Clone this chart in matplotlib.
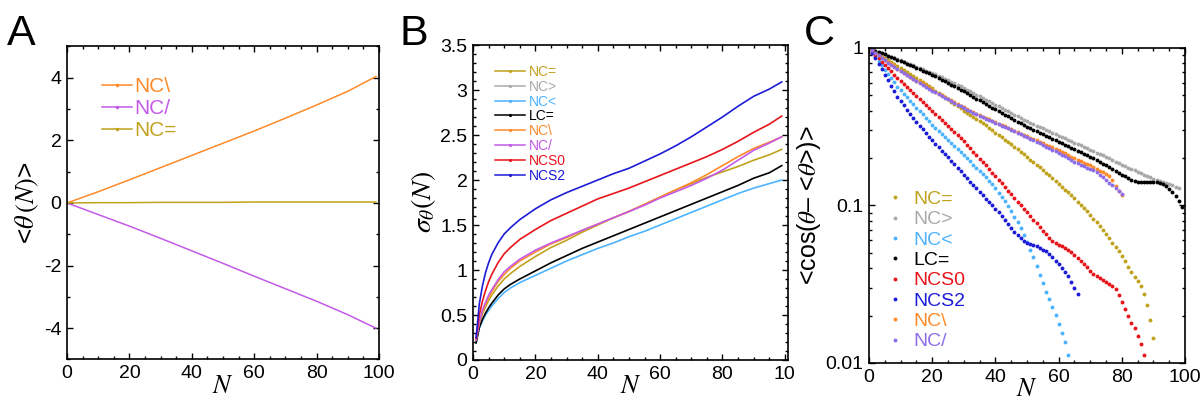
import numpy as np
import matplotlib.pyplot as plt
from matplotlib.lines import Line2D
from matplotlib.ticker import MultipleLocator, LogLocator, NullFormatter

plt.rcParams.update({'font.family': ['Liberation Sans', 'DejaVu Sans'],
                     'mathtext.fontset': 'stix',
                     'axes.unicode_minus': False,
                     'font.size': 14})

# colours
GOLD = '#C0A21C'
GREY = '#A9A9A9'
LBLUE = '#4DB3FF'
BLACK = '#000000'
RED = '#E8141B'
BLUE = '#1C1CD6'
ORANGE = '#FF8A2A'
PURPLE_AB = '#C35BE8'
PURPLE_C = '#8E6EE8'

# ---------------- panel A : <theta(N)>
N_a = [0, 10, 20, 30, 40, 50, 60, 70, 80, 90, 99]
theta_nc_back = [0, 0.36, 0.74, 1.13, 1.52, 1.91, 2.30, 2.71, 3.13, 3.57, 4.04]
theta_nc_fwd = [0, -0.37, -0.74, -1.13, -1.53, -1.93, -2.34, -2.74, -3.14, -3.57, -4.00]
theta_nc_eq = [0, 0.01, 0.01, 0.02, 0.02, 0.02, 0.03, 0.03, 0.03, 0.03, 0.03]

# ---------------- panel B : sigma_theta(N)
N_b = [1, 2, 3, 4, 5, 6, 8, 10, 12, 15, 20, 25, 30, 35, 40, 45, 50, 55, 60, 65, 70, 75, 80, 85, 90, 95, 99]
sig_nc_eq = [0.21, 0.40, 0.51, 0.59, 0.66, 0.72, 0.82, 0.90, 0.96, 1.04, 1.15, 1.25, 1.33, 1.42,
             1.50, 1.58, 1.65, 1.73, 1.81, 1.89, 1.96, 2.03, 2.09, 2.15, 2.22, 2.28, 2.34]
sig_nc_lt = [0.19, 0.35, 0.43, 0.50, 0.55, 0.60, 0.68, 0.75, 0.80, 0.86, 0.94, 1.02, 1.10, 1.17,
             1.24, 1.30, 1.37, 1.43, 1.50, 1.57, 1.64, 1.71, 1.78, 1.85, 1.91, 1.96, 2.00]
sig_lc_eq = [0.19, 0.36, 0.45, 0.52, 0.58, 0.63, 0.72, 0.79, 0.84, 0.90, 0.99, 1.08, 1.16, 1.24,
             1.31, 1.38, 1.45, 1.52, 1.59, 1.66, 1.73, 1.80, 1.87, 1.94, 2.02, 2.08, 2.16]
sig_nc_back = [0.22, 0.41, 0.53, 0.62, 0.70, 0.76, 0.87, 0.95, 1.02, 1.10, 1.20, 1.29, 1.36, 1.44,
               1.51, 1.58, 1.65, 1.73, 1.81, 1.89, 1.97, 2.06, 2.16, 2.26, 2.35, 2.42, 2.48]
sig_nc_fwd = [0.22, 0.42, 0.55, 0.64, 0.72, 0.78, 0.89, 0.98, 1.04, 1.12, 1.22, 1.30, 1.37, 1.44,
              1.51, 1.58, 1.65, 1.72, 1.80, 1.87, 1.94, 2.02, 2.11, 2.22, 2.33, 2.41, 2.48]
sig_ncs0 = [0.24, 0.50, 0.65, 0.77, 0.87, 0.95, 1.08, 1.18, 1.25, 1.34, 1.45, 1.55, 1.63, 1.71,
            1.79, 1.85, 1.91, 1.98, 2.05, 2.12, 2.19, 2.26, 2.34, 2.43, 2.53, 2.62, 2.71]
sig_ncs2 = [0.25, 0.62, 0.82, 0.97, 1.08, 1.17, 1.30, 1.40, 1.47, 1.56, 1.68, 1.78, 1.86, 1.93,
            2.00, 2.07, 2.13, 2.21, 2.29, 2.38, 2.48, 2.59, 2.70, 2.82, 2.93, 3.01, 3.09]

# ---------------- panel C : <cos(theta - <theta>)> as log10, N = 1, 2, ...
lc_nc_eq = [-0.012, -0.024, -0.036, -0.049, -0.062, -0.075, -0.088, -0.101, -0.114, -0.127,
            -0.140, -0.153, -0.166, -0.179, -0.192, -0.205, -0.218, -0.231, -0.244, -0.257,
            -0.271, -0.285, -0.299, -0.313, -0.327, -0.341, -0.355, -0.369, -0.383, -0.397,
            -0.410, -0.423, -0.436, -0.449, -0.462, -0.477, -0.492, -0.507, -0.522, -0.537,
            -0.552, -0.567, -0.582, -0.597, -0.612, -0.628, -0.644, -0.660, -0.676, -0.692,
            -0.708, -0.724, -0.741, -0.758, -0.775, -0.792, -0.809, -0.827, -0.845, -0.863,
            -0.881, -0.899, -0.917, -0.936, -0.955, -0.975, -0.996, -1.017, -1.038, -1.060,
            -1.083, -1.106, -1.130, -1.155, -1.180, -1.207, -1.235, -1.263, -1.292, -1.322,
            -1.355, -1.390, -1.425, -1.455, -1.482, -1.510, -1.560, -1.630, -1.730, -1.840]
lc_nc_gt = [-0.008, -0.016, -0.024, -0.032, -0.040, -0.048, -0.056, -0.064, -0.072, -0.079,
            -0.087, -0.095, -0.103, -0.111, -0.119, -0.127, -0.135, -0.143, -0.151, -0.159,
            -0.168, -0.177, -0.186, -0.195, -0.204, -0.214, -0.224, -0.234, -0.244, -0.255,
            -0.265, -0.276, -0.286, -0.297, -0.307, -0.318, -0.328, -0.339, -0.349, -0.360,
            -0.370, -0.381, -0.391, -0.402, -0.412, -0.423, -0.433, -0.444, -0.455, -0.466,
            -0.475, -0.484, -0.493, -0.502, -0.511, -0.520, -0.529, -0.538, -0.547, -0.556,
            -0.565, -0.574, -0.583, -0.592, -0.601, -0.610, -0.619, -0.628, -0.637, -0.646,
            -0.655, -0.664, -0.673, -0.682, -0.691, -0.701, -0.711, -0.721, -0.731, -0.741,
            -0.750, -0.759, -0.768, -0.777, -0.786, -0.795, -0.804, -0.813, -0.821, -0.829,
            -0.836, -0.843, -0.850, -0.857, -0.864, -0.872, -0.880, -0.890]
lc_nc_lt = [-0.025, -0.053, -0.081, -0.109, -0.137, -0.164, -0.191, -0.218, -0.245, -0.268,
            -0.290, -0.312, -0.334, -0.356, -0.378, -0.400, -0.422, -0.444, -0.466, -0.488,
            -0.507, -0.526, -0.545, -0.564, -0.583, -0.602, -0.621, -0.640, -0.660, -0.680,
            -0.700, -0.720, -0.740, -0.760, -0.780, -0.800, -0.821, -0.843, -0.866, -0.892,
            -0.919, -0.946, -0.974, -1.003, -1.035, -1.070, -1.107, -1.146, -1.188, -1.233,
            -1.280, -1.330, -1.385, -1.440, -1.495, -1.550, -1.595, -1.645, -1.695, -1.750,
            -1.807, -1.865, -1.950]
lc_lc_eq = [-0.008, -0.016, -0.024, -0.032, -0.041, -0.049, -0.057, -0.065, -0.074, -0.082,
            -0.091, -0.100, -0.108, -0.117, -0.126, -0.134, -0.143, -0.152, -0.161, -0.170,
            -0.180, -0.191, -0.201, -0.212, -0.222, -0.233, -0.243, -0.254, -0.264, -0.275,
            -0.286, -0.298, -0.309, -0.321, -0.332, -0.344, -0.355, -0.367, -0.378, -0.390,
            -0.401, -0.412, -0.423, -0.434, -0.445, -0.456, -0.467, -0.478, -0.489, -0.500,
            -0.510, -0.519, -0.529, -0.539, -0.548, -0.558, -0.568, -0.578, -0.587, -0.597,
            -0.606, -0.615, -0.625, -0.634, -0.643, -0.653, -0.662, -0.671, -0.681, -0.690,
            -0.701, -0.712, -0.723, -0.734, -0.745, -0.757, -0.769, -0.781, -0.793, -0.805,
            -0.815, -0.825, -0.835, -0.843, -0.848, -0.850, -0.850, -0.849, -0.848, -0.849,
            -0.851, -0.856, -0.864, -0.876, -0.893, -0.915, -0.940, -0.970, -1.010]
lc_ncs0 = [-0.020, -0.042, -0.064, -0.086, -0.107, -0.128, -0.149, -0.170, -0.190, -0.209,
           -0.228, -0.247, -0.266, -0.285, -0.304, -0.323, -0.342, -0.361, -0.380, -0.398,
           -0.417, -0.436, -0.455, -0.474, -0.493, -0.512, -0.531, -0.550, -0.570, -0.592,
           -0.614, -0.636, -0.658, -0.680, -0.702, -0.724, -0.746, -0.768, -0.791, -0.814,
           -0.837, -0.860, -0.883, -0.906, -0.929, -0.952, -0.975, -0.998, -1.021, -1.044,
           -1.067, -1.090, -1.113, -1.136, -1.159, -1.182, -1.205, -1.225, -1.237, -1.248,
           -1.258, -1.268, -1.282, -1.297, -1.313, -1.333, -1.353, -1.373, -1.393, -1.413,
           -1.432, -1.447, -1.461, -1.475, -1.487, -1.498, -1.510, -1.530, -1.570, -1.615,
           -1.660, -1.703, -1.743, -1.780, -1.830, -1.880, -1.950]
lc_ncs2 = [-0.030, -0.065, -0.100, -0.135, -0.170, -0.205, -0.240, -0.275, -0.310, -0.337,
           -0.364, -0.391, -0.418, -0.445, -0.470, -0.494, -0.517, -0.540, -0.563, -0.585,
           -0.607, -0.629, -0.651, -0.673, -0.695, -0.717, -0.738, -0.760, -0.782, -0.805,
           -0.827, -0.850, -0.871, -0.892, -0.913, -0.935, -0.956, -0.977, -0.998, -1.020,
           -1.044, -1.068, -1.092, -1.117, -1.142, -1.166, -1.190, -1.207, -1.224, -1.240,
           -1.247, -1.254, -1.260, -1.270, -1.280, -1.290, -1.310, -1.330, -1.350, -1.370,
           -1.397, -1.423, -1.450, -1.487, -1.523, -1.560]
lc_nc_back = [-0.014, -0.029, -0.044, -0.059, -0.074, -0.089, -0.103, -0.117, -0.131, -0.144,
              -0.157, -0.170, -0.183, -0.195, -0.207, -0.219, -0.231, -0.243, -0.255, -0.267,
              -0.278, -0.289, -0.300, -0.311, -0.322, -0.333, -0.344, -0.355, -0.366, -0.377,
              -0.387, -0.397, -0.407, -0.417, -0.426, -0.435, -0.444, -0.453, -0.462, -0.471,
              -0.480, -0.489, -0.498, -0.507, -0.516, -0.525, -0.534, -0.543, -0.551, -0.560,
              -0.569, -0.578, -0.587, -0.596, -0.605, -0.613, -0.622, -0.631, -0.639, -0.648,
              -0.658, -0.669, -0.679, -0.690, -0.700, -0.711, -0.720, -0.728, -0.737, -0.745,
              -0.754, -0.766, -0.778, -0.790, -0.802, -0.815, -0.838, -0.875, -0.905, -0.933]
lc_nc_fwd = [-0.015, -0.031, -0.047, -0.063, -0.078, -0.093, -0.107, -0.121, -0.135, -0.148,
             -0.161, -0.174, -0.187, -0.199, -0.211, -0.223, -0.235, -0.247, -0.259, -0.271,
             -0.282, -0.293, -0.304, -0.315, -0.326, -0.337, -0.348, -0.359, -0.370, -0.381,
             -0.391, -0.401, -0.411, -0.421, -0.430, -0.439, -0.448, -0.457, -0.466, -0.475,
             -0.484, -0.493, -0.502, -0.511, -0.520, -0.529, -0.538, -0.547, -0.556, -0.566,
             -0.576, -0.586, -0.596, -0.606, -0.616, -0.626, -0.636, -0.646, -0.656, -0.666,
             -0.677, -0.688, -0.699, -0.710, -0.721, -0.732, -0.741, -0.750, -0.759, -0.767,
             -0.776, -0.790, -0.806, -0.822, -0.839, -0.856, -0.873, -0.890, -0.908, -0.925]


def style_axes(ax):
    ax.tick_params(which='both', direction='in', top=True, right=True, labelsize=14, width=1.0)
    ax.tick_params(which='major', length=4.5, pad=4)
    ax.tick_params(which='minor', length=2.5)
    for s in ax.spines.values():
        s.set_linewidth(1.2)


fig = plt.figure(figsize=(12.03, 4.03), dpi=100)

# ---- A
axA = fig.add_axes([0.0557, 0.108, 0.2594, 0.7767])
axA.plot(N_a, theta_nc_back, color=ORANGE, lw=1.1)
axA.plot(N_a, theta_nc_fwd, color=PURPLE_AB, lw=1.1)
axA.plot(N_a, theta_nc_eq, color=GOLD, lw=1.1)
axA.set_xlim(0, 100)
axA.set_ylim(-5, 5)
axA.xaxis.set_major_locator(MultipleLocator(20))
axA.xaxis.set_minor_locator(MultipleLocator(5))
axA.yaxis.set_major_locator(MultipleLocator(2))
axA.yaxis.set_minor_locator(MultipleLocator(1))
style_axes(axA)
axA.set_xlabel('$N$', fontsize=19, labelpad=-6)
axA.set_ylabel(r'<$\theta\,(N)$>', fontsize=19, labelpad=2)
hA = [Line2D([], [], color=c, lw=1.1, marker='.', ms=3) for c in (ORANGE, PURPLE_AB, GOLD)]
axA.legend(hA, ['NC\\', 'NC/', 'NC='], loc='upper left', bbox_to_anchor=(0.112, 0.902),
           frameon=False, fontsize=15, handlelength=1.45, handletextpad=0.1,
           labelspacing=0.15, borderpad=0, borderaxespad=0, labelcolor='linecolor')

# ---- B
axB = fig.add_axes([0.3932, 0.1067, 0.2618, 0.7816])
axB.plot(N_b, sig_nc_eq, color=GOLD, lw=1.2)
axB.plot(N_b, sig_nc_lt, color=LBLUE, lw=1.2)
axB.plot(N_b, sig_lc_eq, color=BLACK, lw=1.2)
axB.plot(N_b, sig_nc_back, color=ORANGE, lw=1.2)
axB.plot(N_b, sig_nc_fwd, color=PURPLE_AB, lw=1.2)
axB.plot(N_b, sig_ncs0, color=RED, lw=1.2)
axB.plot(N_b, sig_ncs2, color=BLUE, lw=1.2)
axB.set_xlim(0, 101)
axB.set_ylim(0, 3.5)
axB.set_xticks([0, 20, 40, 60, 80, 100])
axB.set_xticklabels(['0', '20', '40', '60', '80', '10'])
axB.xaxis.set_minor_locator(MultipleLocator(5))
axB.yaxis.set_minor_locator(MultipleLocator(0.1))
axB.set_yticks([0, 0.5, 1, 1.5, 2, 2.5, 3, 3.5])
axB.set_yticklabels(['0', '0.5', '1', '1.5', '2', '2.5', '3', '3.5'])
style_axes(axB)
axB.set_xlabel('$N$', fontsize=19, labelpad=-6)
axB.set_ylabel(r'$\sigma_\theta(N)$', fontsize=20, labelpad=2)
colsB = [GOLD, GREY, LBLUE, BLACK, ORANGE, PURPLE_AB, RED, BLUE]
labsB = ['NC=', 'NC>', 'NC<', 'LC=', 'NC\\', 'NC/', 'NCS0', 'NCS2']
hB = [Line2D([], [], color=c, lw=1.1, marker='.', ms=2.5) for c in colsB]
axB.legend(hB, labsB, loc='upper left', bbox_to_anchor=(0.07, 0.937),
           frameon=False, fontsize=10, handlelength=2.15, handletextpad=0.3,
           labelspacing=0.06, borderpad=0, borderaxespad=0, labelcolor='linecolor')

# ---- C
axC = fig.add_axes([0.7224, 0.0993, 0.2627, 0.7816])
seriesC = [(lc_nc_eq, GOLD, 'NC='), (lc_nc_gt, GREY, 'NC>'), (lc_nc_lt, LBLUE, 'NC<'),
           (lc_lc_eq, BLACK, 'LC='), (lc_ncs0, RED, 'NCS0'), (lc_ncs2, BLUE, 'NCS2'),
           (lc_nc_back, ORANGE, 'NC\\'), (lc_nc_fwd, PURPLE_C, 'NC/')]
for vals, c, lab in seriesC:
    n = np.arange(1, len(vals) + 1)
    axC.plot(n, 10 ** np.array(vals), 'o', color=c, ms=2.8, mew=0, label=lab)
axC.set_yscale('log')
axC.set_xlim(0, 100)
axC.set_ylim(0.01, 1)
axC.xaxis.set_major_locator(MultipleLocator(20))
axC.xaxis.set_minor_locator(MultipleLocator(5))
axC.yaxis.set_minor_locator(LogLocator(base=10, subs=np.arange(2, 10)))
axC.yaxis.set_minor_formatter(NullFormatter())
axC.set_yticks([0.01, 0.1, 1])
axC.set_yticklabels(['0.01', '0.1', '1'])
style_axes(axC)
axC.set_xlabel('$N$', fontsize=19, labelpad=-6)
axC.set_ylabel(r'<cos($\theta$– <$\theta$>)>', fontsize=18, labelpad=2)
axC.legend(loc='upper left', bbox_to_anchor=(0.057, 0.548), frameon=False, fontsize=14,
           handlelength=0.8, handletextpad=0.54, labelspacing=0.14, borderpad=0,
           borderaxespad=0, markerscale=1.0, labelcolor='markerfacecolor')

for x, s in [(0.006, 'A'), (0.332, 'B'), (0.668, 'C')]:
    fig.text(x, 0.888, s, fontsize=31, va='baseline')

fig.savefig('out.png', dpi=100)
